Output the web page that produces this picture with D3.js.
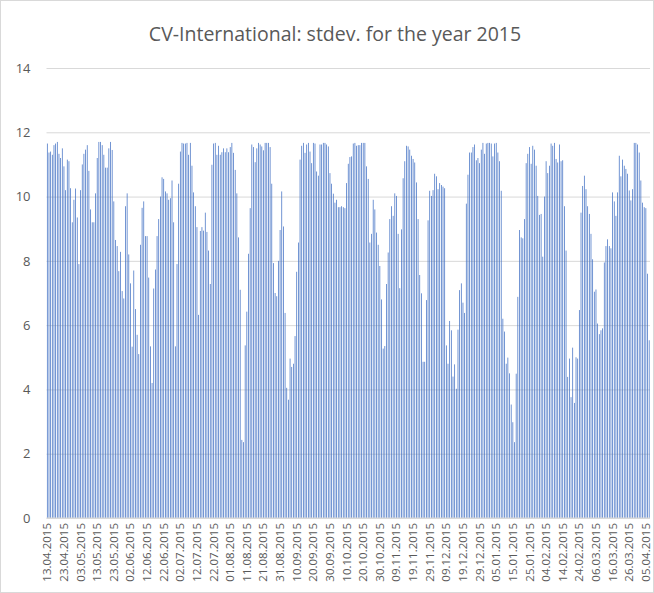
<!DOCTYPE html>
<html lang="en">
<head>
  <meta charset="UTF-8">
  <title>CV-International: stdev</title>
  <script src="https://cdn.jsdelivr.net/npm/d3@7"></script>
  <style>
    body { margin: 0; background: #fff; }
    svg text { font-family: "Open Sans", sans-serif; fill: #595959; }
  </style>
</head>
<body>
  <svg id="chart" width="654" height="593"></svg>

  <script>
    // category labels shown every 10th day
    const tickLabels = [
      "13.04.2015", "23.04.2015", "03.05.2015", "13.05.2015", "23.05.2015", "02.06.2015",
      "12.06.2015", "22.06.2015", "02.07.2015", "12.07.2015", "22.07.2015", "01.08.2015",
      "11.08.2015", "21.08.2015", "31.08.2015", "10.09.2015", "20.09.2015", "30.09.2015",
      "10.10.2015", "20.10.2015", "30.10.2015", "09.11.2015", "19.11.2015", "29.11.2015",
      "09.12.2015", "19.12.2015", "29.12.2015", "05.01.2015", "15.01.2015", "25.01.2015",
      "04.02.2015", "14.02.2015", "24.02.2015", "06.03.2015", "16.03.2015", "26.03.2015",
      "05.04.2015"
    ];
    const tickStep = 10;

    // daily stdev values
    const stdev = [
      11.65, 11.37, 11.4, 11.3, 11.6, 11.65, 11.7, 11.33, 11.2, 11.5,
      10.94, 10.2, 11.15, 11.1, 10.26, 9.2, 9.9, 10.25, 9.35, 7.9,
      10.2, 11.0, 11.33, 11.46, 11.6, 10.8, 9.6, 9.2, 9.2, 10.1,
      11.2, 11.7, 11.7, 11.6, 11.3, 10.9, 10.9, 11.5, 11.7, 11.45,
      9.85, 8.65, 8.46, 7.68, 8.28, 7.06, 6.83, 9.7, 10.1, 8.2,
      7.3, 5.33, 7.7, 6.5, 5.7, 5.1, 8.5, 9.65, 9.85, 8.77,
      8.77, 7.48, 5.34, 4.2, 7.14, 7.73, 8.77, 9.3, 10.0, 10.6,
      10.55, 10.16, 10.1, 9.9, 9.95, 10.5, 9.2, 5.34, 7.9, 10.4,
      11.4, 11.67, 11.65, 11.65, 11.67, 11.3, 11.67, 10.96, 10.13, 9.7,
      9.05, 6.32, 8.93, 9.05, 8.94, 9.5, 8.9, 8.32, 7.28, 10.99,
      11.65, 11.67, 11.3, 11.58, 11.3, 11.38, 11.5, 11.38, 11.5, 11.38,
      11.54, 11.67, 11.36, 10.83, 10.1, 8.73, 7.1, 2.43, 2.36, 5.37,
      6.42, 8.22, 9.64, 11.62, 11.54, 11.07, 11.5, 11.67, 11.62, 11.56,
      11.44, 11.67, 11.67, 11.67, 11.54, 10.4, 7.93, 7.0, 6.9, 8.0,
      8.96, 10.16, 9.07, 6.38, 4.05, 3.68, 4.96, 4.7, 4.8, 5.66,
      7.66, 8.57, 11.15, 11.58, 11.67, 11.36, 11.62, 11.67, 11.4, 11.04,
      11.67, 11.65, 10.78, 10.65, 11.62, 11.62, 11.67, 11.67, 11.62, 11.56,
      10.73, 10.4, 10.09, 9.81, 9.9, 9.67, 9.67, 9.7, 9.67, 9.64,
      10.42, 11.02, 11.23, 11.25, 11.65, 11.67, 11.58, 11.6, 11.6, 11.67,
      11.67, 11.67, 10.94, 10.55, 8.57, 8.84, 9.9, 9.6, 8.88, 8.5,
      7.84, 6.8, 5.27, 5.35, 7.28, 8.26, 9.3, 9.7, 9.4, 10.1,
      10.02, 8.84, 7.15, 8.98, 10.57, 11.1, 11.58, 11.56, 11.46, 11.27,
      11.17, 11.06, 10.44, 9.3, 7.56, 6.99, 4.86, 4.86, 6.78, 9.26,
      10.18, 10.02, 10.2, 10.71, 10.63, 10.23, 10.42, 10.36, 10.31, 10.26,
      5.37, 4.8, 6.13, 5.84, 4.4, 4.78, 4.02, 5.86, 7.09, 7.3,
      6.7, 6.38, 9.78, 10.68, 11.37, 11.37, 11.54, 11.62, 11.13, 11.2,
      11.04, 11.46, 11.67, 11.33, 11.65, 11.67, 11.67, 11.65, 11.25, 11.65,
      11.67, 11.37, 11.1, 10.18, 6.2, 5.8, 4.8, 4.99, 4.5, 3.53,
      2.98, 2.36, 4.49, 6.88, 8.96, 8.73, 8.7, 9.3, 11.04, 11.33,
      11.54, 11.02, 11.58, 11.46, 10.96, 10.02, 9.43, 9.46, 8.13, 10.0,
      11.1, 10.73, 10.96, 11.65, 11.58, 11.67, 11.17, 11.06, 11.62, 11.1,
      11.13, 9.7, 8.32, 4.39, 4.96, 3.76, 5.3, 3.58, 5.0, 4.96,
      6.47, 9.5, 10.33, 10.65, 10.23, 9.7, 9.46, 8.84, 8.05, 7.04,
      7.11, 6.05, 5.72, 5.84, 5.9, 7.95, 8.46, 8.67, 8.46, 8.39,
      10.13, 9.85, 9.4, 10.13, 11.27, 10.63, 11.15, 10.96, 10.86, 10.71,
      10.19, 9.88, 10.23, 11.67, 11.67, 11.62, 11.37, 10.5, 9.81, 9.67,
      9.64, 7.6, 5.53
    ];

    const yTicks = [0, 2, 4, 6, 8, 10, 12, 14];

    const svg = d3.select("#chart");
    const width = +svg.attr("width");
    const height = +svg.attr("height");
    const margin = { top: 68, right: 4, bottom: 75, left: 46.5 };
    const chartWidth = width - margin.left - margin.right;
    const chartHeight = height - margin.top - margin.bottom;

    // chart area border
    svg.append("rect")
      .attr("x", 0.5).attr("y", 0.5)
      .attr("width", width - 1).attr("height", height - 1)
      .attr("fill", "#fff")
      .attr("stroke", "#d9d9d9");

    svg.append("text")
      .attr("x", 335)
      .attr("y", 41)
      .attr("text-anchor", "middle")
      .style("font-size", "19.5px")
      .style("fill", "#595959")
      .text("CV-International: stdev. for the year 2015");

    const x = d3.scaleBand()
      .domain(d3.range(stdev.length))
      .range([0, chartWidth])
      .paddingInner(0.55)
      .paddingOuter(0.27);

    const y = d3.scaleLinear().domain([0, 14]).range([chartHeight, 0]);

    const chart = svg.append("g")
      .attr("transform", "translate(" + margin.left + "," + margin.top + ")");

    // gridlines + y labels
    const yAxis = d3.axisLeft(y).tickValues(yTicks).tickSize(-chartWidth).tickPadding(16);
    chart.append("g").attr("class", "y axis").call(yAxis)
      .call(g => g.select(".domain").remove())
      .call(g => g.selectAll("line").attr("stroke", "#d9d9d9"))
      .call(g => g.selectAll("text")
        .style("font-size", "13px")
        .style("fill", "#595959")
        .style("font-family", "'Open Sans', sans-serif"));

    chart.append("g")
      .selectAll("rect")
      .data(stdev)
      .join("rect")
      .attr("x", (d, i) => x(i))
      .attr("y", d => y(d))
      .attr("width", x.bandwidth())
      .attr("height", d => chartHeight - y(d))
      .attr("fill", "#4472c4");

    // bottom axis line
    chart.append("line")
      .attr("x1", 0).attr("x2", chartWidth)
      .attr("y1", chartHeight).attr("y2", chartHeight)
      .attr("stroke", "#d9d9d9");

    chart.append("g")
      .selectAll("text")
      .data(tickLabels)
      .join("text")
      .attr("transform", (d, k) => "translate(" + (x(k * tickStep) + x.bandwidth() / 2) + "," + (chartHeight + 5) + ") rotate(-90)")
      .attr("dy", "0.35em")
      .attr("text-anchor", "end")
      .style("font-size", "11.5px")
      .text(d => d);
  </script>
</body>
</html>
